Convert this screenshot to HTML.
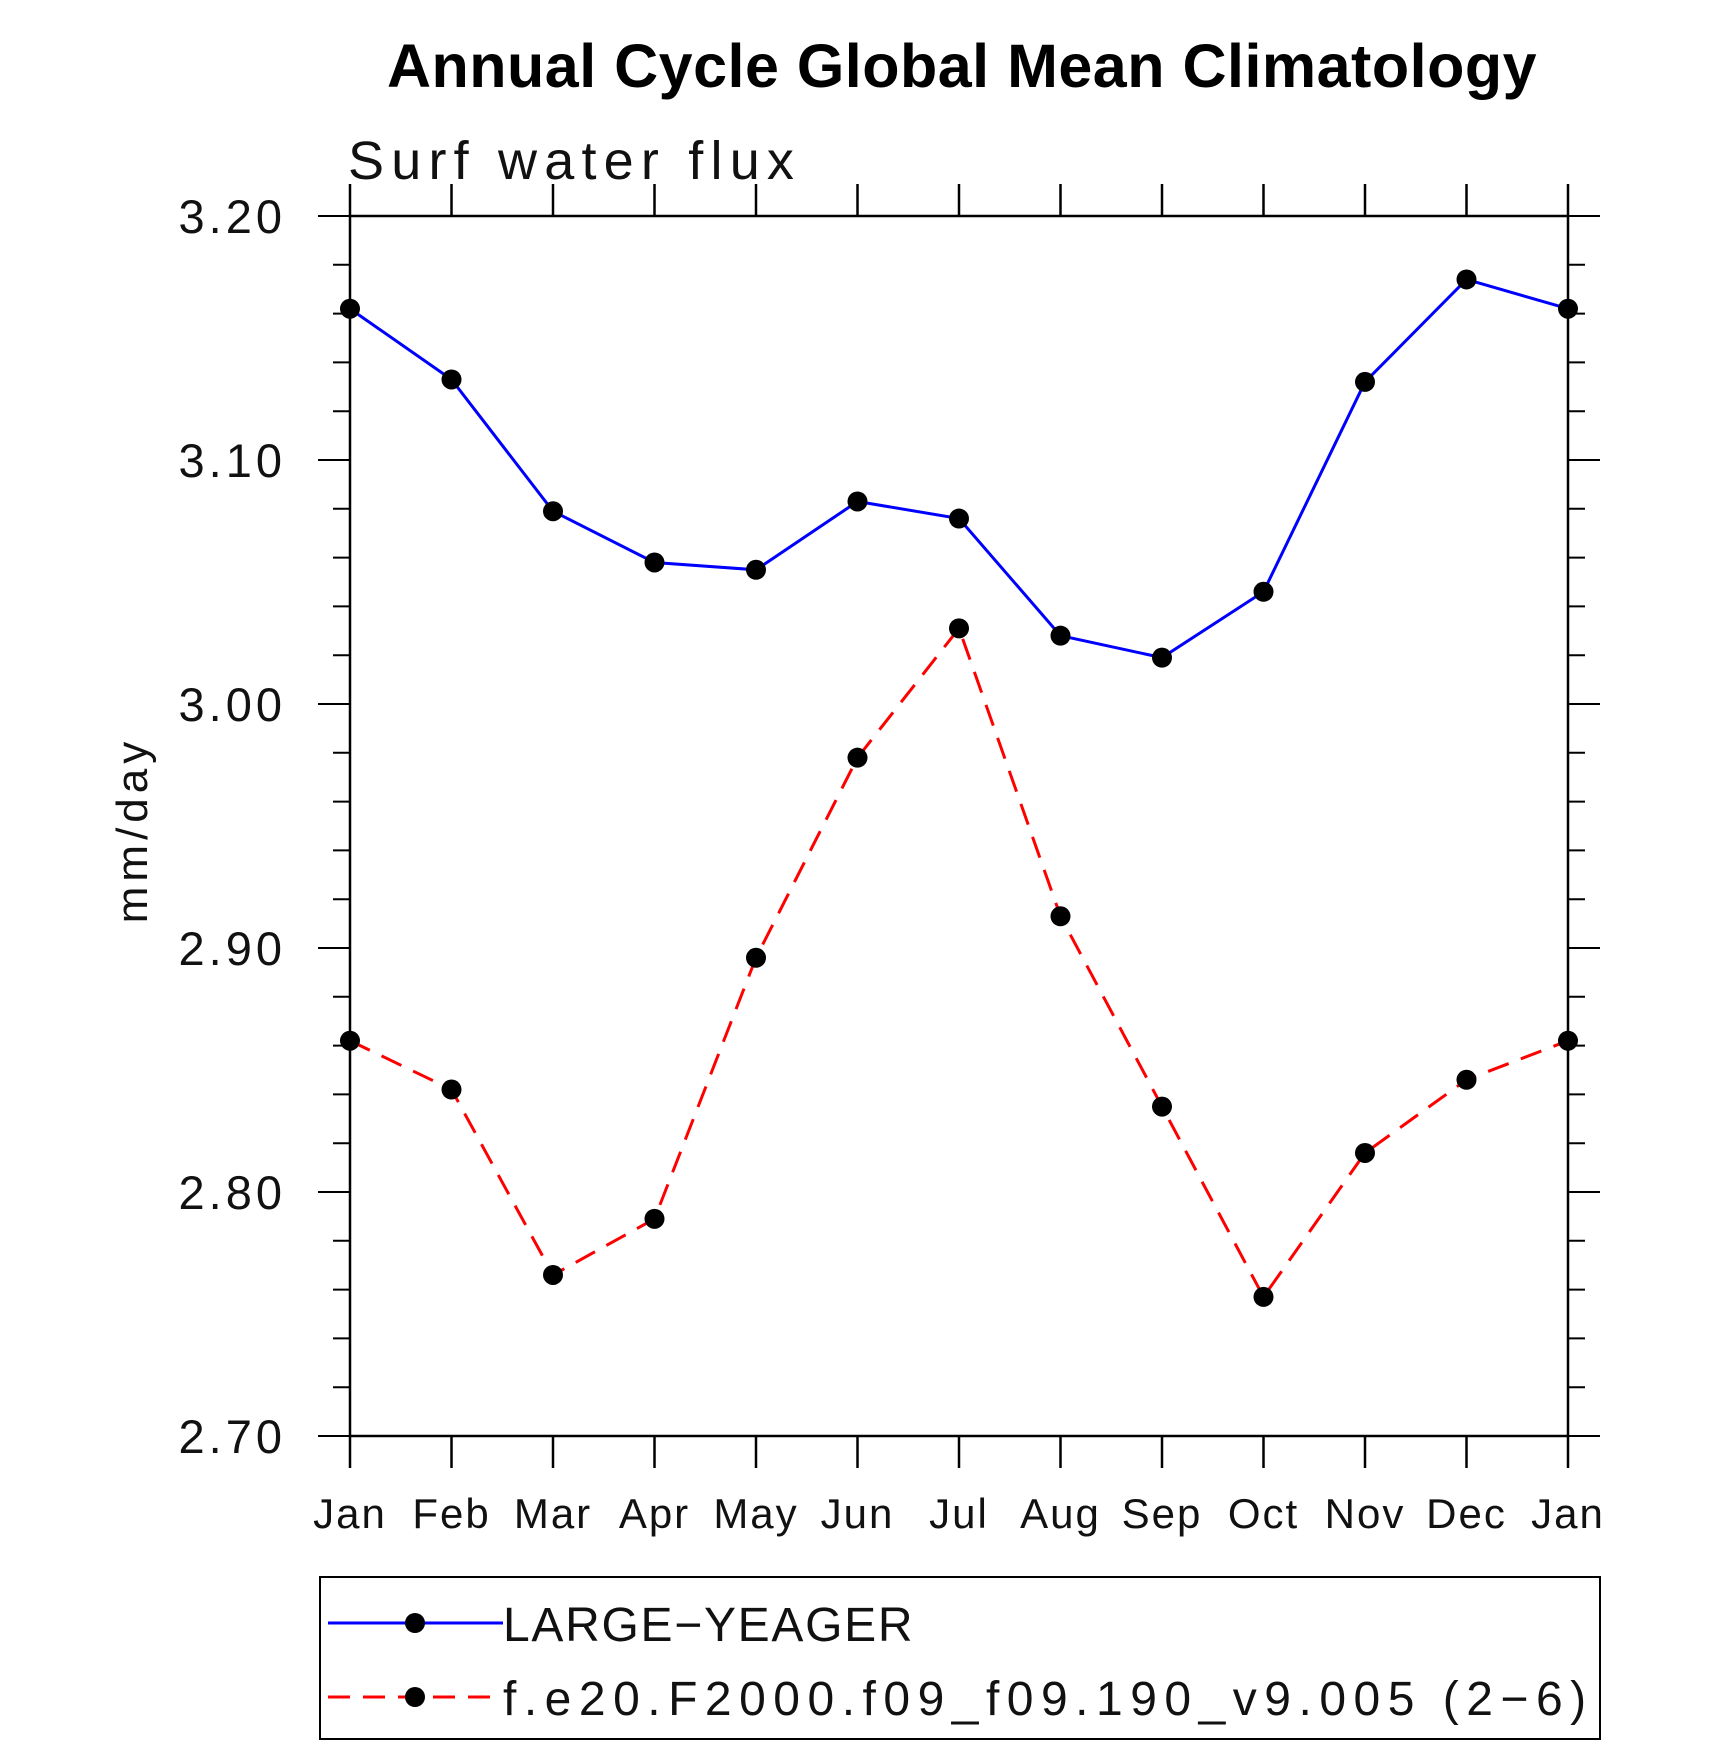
<!DOCTYPE html>
<html><head><meta charset="utf-8"><style>
html,body{margin:0;padding:0;background:#fff;}
svg{display:block;font-family:"Liberation Sans",sans-serif;}
</style></head><body>
<svg id="chart" width="1710" height="1746" viewBox="0 0 1710 1746" xmlns="http://www.w3.org/2000/svg">
<text x="962" y="87" text-anchor="middle" font-size="61" font-weight="bold" letter-spacing="0.5">Annual Cycle Global Mean Climatology</text>
<text x="348" y="179" font-size="54" letter-spacing="7.2" fill="#111">Surf water flux</text>
<text transform="translate(147,830) rotate(-90)" text-anchor="middle" font-size="44" letter-spacing="5" fill="#111">mm/day</text>
<g id="axes"></g>
<g id="series"></g>
<rect x="320" y="1577" width="1280" height="162" fill="none" stroke="#000" stroke-width="2"/>
<g>
<line x1="328" y1="1623" x2="503" y2="1623" stroke="#0000ff" stroke-width="3"/>
<circle cx="415" cy="1623" r="10" fill="#000"/>
<text x="503" y="1641" font-size="48" letter-spacing="1.7" fill="#111">LARGE−YEAGER</text>
</g>
<g>
<line x1="328" y1="1697" x2="503" y2="1697" stroke="#ff0000" stroke-width="3" stroke-dasharray="22,13"/>
<circle cx="415" cy="1697" r="10" fill="#000"/>
<text x="503" y="1715" font-size="48" letter-spacing="7.5" fill="#111">f.e20.F2000.f09_f09.190_v9.005 (2−6)</text>
</g>
</svg>
<script>
const months = ["Jan","Feb","Mar","Apr","May","Jun","Jul","Aug","Sep","Oct","Nov","Dec","Jan"];
const largeYeager = [3.162,3.133,3.079,3.058,3.055,3.083,3.076,3.028,3.019,3.046,3.132,3.174,3.162];
const fe20 = [2.862,2.842,2.766,2.789,2.896,2.978,3.031,2.913,2.835,2.757,2.816,2.846,2.862];
const yTicks = ["2.70","2.80","2.90","3.00","3.10","3.20"];

const NS="http://www.w3.org/2000/svg";
const L=350,R=1568,T=216,B=1436,YMIN=2.7,YMAX=3.2;
const xs=i=>L+(R-L)*i/(months.length-1);
const ys=v=>B-(v-YMIN)/(YMAX-YMIN)*(B-T);
function mk(tag,attrs,parent){const e=document.createElementNS(NS,tag);for(const k in attrs)e.setAttribute(k,attrs[k]);parent.appendChild(e);return e;}
const axes=document.getElementById('axes');
const frame=mk('rect',{x:L,y:T,width:R-L,height:B-T,fill:'none',stroke:'#000','stroke-width':2.5},axes);


months.forEach((m,i)=>{
  const x=xs(i);
  mk('line',{x1:x,y1:B,x2:x,y2:B+32,stroke:'#000','stroke-width':2.5},axes);
  mk('line',{x1:x,y1:T,x2:x,y2:T-32,stroke:'#000','stroke-width':2.5},axes);
  const t=mk('text',{x:x,y:1528,'text-anchor':'middle','font-size':42,'letter-spacing':2,fill:'#111'},axes);
  t.textContent=m;
  
  
});
for(let k=0;k<=25;k++){
  const v=YMIN+k*0.02,y=ys(v),major=k%5===0;
  const len=major?32:17;
  mk('line',{x1:L-len,y1:y,x2:L,y2:y,stroke:'#000','stroke-width':2},axes);
  mk('line',{x1:R,y1:y,x2:R+len,y2:y,stroke:'#000','stroke-width':2},axes);
}
yTicks.forEach(s=>{
  const y=ys(parseFloat(s));
  const t=mk('text',{x:286,y:y+17,'text-anchor':'end','font-size':47,'letter-spacing':4,fill:'#111'},axes);
  t.textContent=s;
  
  
});
const ser=document.getElementById('series');
function draw(vals,color,dash,name){
  const g=mk('g',{},ser);
  
  
  const p=mk('polyline',{points:vals.map((v,i)=>xs(i)+','+ys(v)).join(' '),fill:'none',stroke:color,'stroke-width':3},g);
  if(dash)p.setAttribute('stroke-dasharray',dash);
  vals.forEach((v,i)=>{
    const c=mk('circle',{cx:xs(i),cy:ys(v),r:10,fill:'#000'},g);
    
    
  });
}
draw(largeYeager,'#0000ff',null,'series-large-yeager');
draw(fe20,'#ff0000','22,13','series-f-e20');
</script>
</body></html>
